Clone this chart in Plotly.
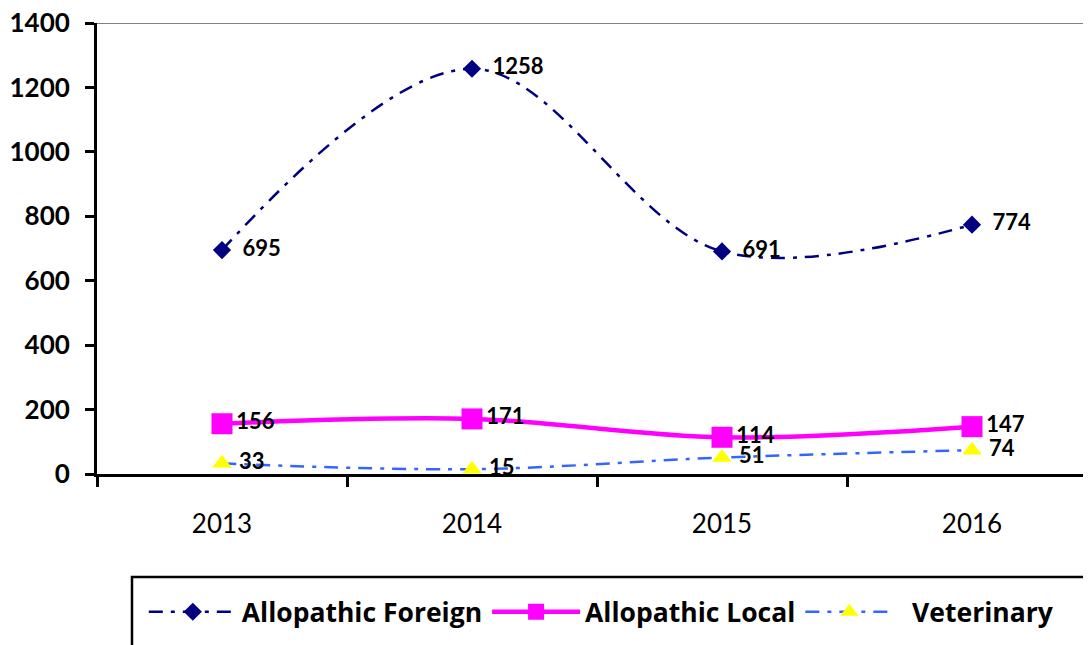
import plotly.graph_objects as go

years = ["2013", "2014", "2015", "2016"]
allopathic_foreign = [695, 1258, 691, 774]
allopathic_local = [156, 171, 114, 147]
veterinary = [33, 15, 51, 74]
y_ticks = [0, 200, 400, 600, 800, 1000, 1200, 1400]
series_names = ["Allopathic Foreign", "Allopathic Local", "Veterinary"]

label_font = dict(family="Lato", size=22, color="black")
dashdot = "14px,8px,4px,8px"
NB = "\u00a0"

fig = go.Figure()
fig.add_trace(go.Scatter(
    x=years, y=allopathic_foreign, name=f"<b>{series_names[0]}</b>",
    mode="lines+markers+text",
    line=dict(color="#000080", width=2.5, dash=dashdot, shape="spline", smoothing=1.0),
    marker=dict(symbol="diamond", size=14, color="#000080"),
    text=[f"<b>{NB}{NB}{v}</b>" for v in allopathic_foreign], textposition="middle right",
    textfont=label_font,
))
fig.add_trace(go.Scatter(
    x=years, y=allopathic_local, name=f"<b>{series_names[1]}</b>",
    mode="lines+markers+text",
    line=dict(color="#FF00FF", width=4.5, shape="spline", smoothing=1.0),
    marker=dict(symbol="square", size=21, color="#FF00FF"),
    text=[f"<b>{v}</b>" for v in allopathic_local], textposition="middle right",
    textfont=label_font,
))
fig.add_trace(go.Scatter(
    x=years, y=veterinary, name=f"<b>{NB}{NB}{series_names[2]}</b>",
    mode="lines+markers+text",
    line=dict(color="#3366FF", width=2.5, dash=dashdot, shape="spline", smoothing=1.0),
    marker=dict(symbol="triangle-up", size=17, color="#FFFF00"),
    text=[f"<b>{NB}{v}</b>" for v in veterinary], textposition="middle right",
    textfont=label_font,
))

# top border of plot area
fig.add_shape(type="line", xref="paper", yref="y", x0=0, x1=1, y0=1400, y1=1400,
              line=dict(color="#808080", width=2))
# legend frame
fig.add_shape(type="rect", xref="paper", yref="paper", x0=0.0352, x1=0.997, y0=-0.2284, y1=-0.6,
              line=dict(color="black", width=2.5), fillcolor="rgba(0,0,0,0)", layer="above")

fig.update_layout(
    width=1083, height=637,
    margin=dict(l=89, r=0, t=15, b=171, autoexpand=False),
    plot_bgcolor="white", paper_bgcolor="white",
    font=dict(family="Lato", color="black"),
    showlegend=True,
    legend=dict(
        orientation="h", xref="container", yref="container",
        x=0.1254, y=0.0518, xanchor="left", yanchor="middle",
        borderwidth=0, bgcolor="rgba(0,0,0,0)",
        font=dict(family="Open Sans", size=26.5, color="black"),
        itemwidth=88,
    ),
    xaxis=dict(
        type="category", range=[-0.5, 3.476], automargin=False,
        showline=True, linecolor="black", linewidth=3,
        ticks="outside", tickson="boundaries", ticklen=10, tickwidth=3, tickcolor="black",
        tickfont=dict(family="Lato", size=26, color="black"),
        ticklabelstandoff=25,
        showgrid=False, zeroline=False,
    ),
    yaxis=dict(
        range=[0, 1400], tickvals=y_ticks, automargin=False,
        ticktext=[f"<b>{v}</b>" for v in y_ticks],
        showline=True, linecolor="black", linewidth=3,
        ticks="outside", ticklen=9, tickwidth=3, tickcolor="black",
        tickfont=dict(family="Lato", size=26, color="black"),
        ticklabelstandoff=10, ticklabeloverflow="allow",
        showgrid=False, zeroline=False,
    ),
)

fig.write_html("out.html")
